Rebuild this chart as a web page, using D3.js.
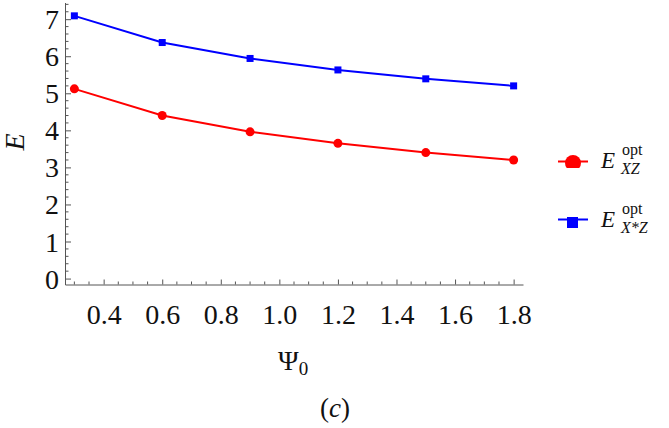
<!DOCTYPE html>
<html><head><meta charset="utf-8">
<script src="https://cdn.jsdelivr.net/npm/d3@7"></script>
</head>
<body style="margin:0;background:#fff"><svg id="c" width="669" height="428"></svg>
<script>
const psi = [0.3, 0.6, 0.9, 1.2, 1.5, 1.8];
const eXZ = [5.12, 4.40, 3.96, 3.65, 3.40, 3.20];
const eXsZ = [7.09, 6.37, 5.94, 5.63, 5.39, 5.20];
const xTicks = [0.4, 0.6, 0.8, 1.0, 1.2, 1.4, 1.6, 1.8];
const yTicks = [0, 1, 2, 3, 4, 5, 6, 7];

const FONT = "Liberation Serif";
const svg = d3.select("#c");
const x = d3.scaleLinear().domain([0.268, 1.832]).range([65, 523]);
const y = d3.scaleLinear().domain([-0.16, 7.45]).range([284.5, 2.5]);
const axisCol = "#555";

const xMinor = d3.range(0.30, 1.8001, 0.05).filter(v => !xTicks.some(t => Math.abs(t - v) < 1e-6));
const yMinor = d3.range(0, 7.41, 0.2).filter(v => !yTicks.some(t => Math.abs(t - v) < 1e-6));

// x axis
const gx = svg.append("g").attr("transform", "translate(0,284.5)");
gx.call(d3.axisBottom(x).tickValues(xTicks).tickSizeInner(-5).tickSizeOuter(0).tickFormat(d3.format(".1f")));
gx.attr("font-family", FONT).attr("font-size", 28);
gx.select(".domain").attr("stroke", axisCol);
gx.selectAll(".tick line").attr("stroke", axisCol);
gx.selectAll(".tick text").attr("y", 39).attr("dy", 0).attr("fill", "#111")
  .attr("font-family", FONT).attr("font-size", 28);
gx.selectAll(".minor").data(xMinor).enter().append("line")
  .attr("x1", d => x(d)).attr("x2", d => x(d)).attr("y1", 0).attr("y2", -3)
  .attr("stroke", axisCol);

// y axis
const gy = svg.append("g").attr("transform", "translate(65,0)");
gy.call(d3.axisLeft(y).tickValues(yTicks).tickSizeInner(-6).tickSizeOuter(0).tickPadding(6));
gy.attr("font-family", FONT).attr("font-size", 28);
gy.select(".domain").attr("stroke", axisCol);
gy.selectAll(".tick line").attr("stroke", axisCol);
gy.selectAll(".tick text").attr("dy", "0.34em").attr("fill", "#111")
  .attr("font-family", FONT).attr("font-size", 28);
gy.selectAll(".minor").data(yMinor).enter().append("line")
  .attr("x1", 0).attr("x2", 3.5).attr("y1", d => y(d)).attr("y2", d => y(d))
  .attr("stroke", axisCol);

// series
const line = d3.line().x(d => x(d[0])).y(d => y(d[1]));
const red = psi.map((p, i) => [p, eXZ[i]]);
const blue = psi.map((p, i) => [p, eXsZ[i]]);
svg.append("path").datum(red).attr("d", line).attr("fill", "none").attr("stroke", "#ff0000").attr("stroke-width", 2);
svg.append("path").datum(blue).attr("d", line).attr("fill", "none").attr("stroke", "#0000ff").attr("stroke-width", 2);
svg.selectAll(".rp").data(red).enter().append("circle")
  .attr("cx", d => x(d[0])).attr("cy", d => y(d[1])).attr("r", 4.5).attr("fill", "#ff0000");
svg.selectAll(".bp").data(blue).enter().append("rect")
  .attr("x", d => x(d[0]) - 3.5).attr("y", d => y(d[1]) - 3.5).attr("width", 7).attr("height", 7).attr("fill", "#0000ff");

function T(sel, size, italic) {
  sel.attr("font-family", FONT).attr("fill", "#111").attr("font-size", size);
  if (italic) sel.attr("font-style", "italic");
  return sel;
}

// axis labels
T(svg.append("text"), 28, true).attr("transform", "translate(24,142) rotate(-90)").attr("text-anchor", "middle").text("E");
const xl = T(svg.append("text"), 28).attr("x", 278).attr("y", 370);
xl.append("tspan").text("Ψ");
xl.append("tspan").attr("dy", 5).attr("font-size", 19).text("0");
const cl = T(svg.append("text"), 27).attr("x", 335).attr("y", 417).attr("text-anchor", "middle");
cl.append("tspan").text("(");
cl.append("tspan").attr("font-style", "italic").text("c");
cl.append("tspan").text(")");

// legend
const defs = svg.append("defs");
defs.append("clipPath").attr("id", "lc").append("rect").attr("x", 560).attr("y", 150).attr("width", 30).attr("height", 18);
const lg = svg.append("g");
lg.append("line").attr("x1", 558).attr("x2", 588).attr("y1", 161.5).attr("y2", 161.5).attr("stroke", "#ff0000").attr("stroke-width", 2);
lg.append("circle").attr("cx", 573).attr("cy", 163).attr("r", 8).attr("fill", "#ff0000").attr("clip-path", "url(#lc)");
lg.append("line").attr("x1", 558).attr("x2", 588).attr("y1", 219.5).attr("y2", 219.5).attr("stroke", "#0000ff").attr("stroke-width", 2);
lg.append("rect").attr("x", 567).attr("y", 217).attr("width", 11).attr("height", 11).attr("fill", "#0000ff");

function legText(yb, sub) {
  T(svg.append("text"), 23, true).attr("x", 601).attr("y", yb).text("E");
  T(svg.append("text"), 16).attr("x", 622).attr("y", yb - 13).text("opt");
  T(svg.append("text"), 16, true).attr("x", 621).attr("y", yb + 6).text(sub);
}
legText(168, "XZ");
legText(227, "X*Z");
</script></body></html>
